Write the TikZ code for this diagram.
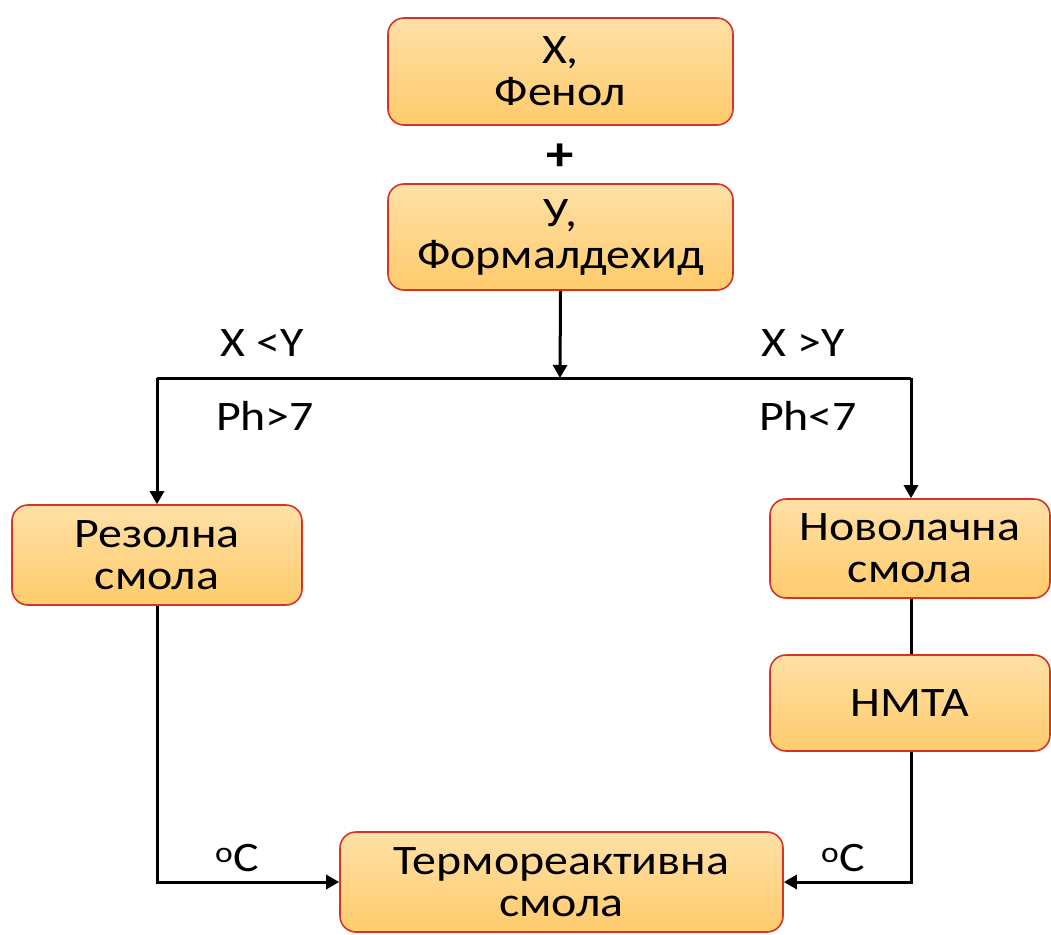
\documentclass[tikz,border=0pt]{standalone}
\usepackage{fontspec}
\setmainfont{Carlito}[FakeStretch=1.14]
\usetikzlibrary{arrows.meta}
\definecolor{boxtop}{RGB}{255,224,166}
\definecolor{boxbot}{RGB}{255,203,108}
\definecolor{boxline}{RGB}{214,52,40}
\tikzset{
  stepbox/.style={draw=boxline, line width=1.6pt, rounded corners=16pt,
    top color=boxtop, bottom color=boxbot, align=center,
    font=\fontsize{42}{42}\selectfont, inner sep=0pt},
  conn/.style={line width=3pt, line cap=butt},
  arr/.style={conn, -{Triangle[length=13pt,width=14pt]}},
  lbl/.style={font=\fontsize{42}{42}\selectfont, inner sep=0pt}
}
\begin{document}
\begin{tikzpicture}[x=1pt,y=-1pt]
\useasboundingbox (0,0) rectangle (1051,934);
\node[stepbox, minimum width=345pt, minimum height=107pt] (x) at (560.5,71.5) {Х,\\Фенол};
\node[lbl, font=\fontsize{48}{48}\selectfont\bfseries] (plus) at (560,157) {+};
\node[stepbox, minimum width=345pt, minimum height=106pt] (y) at (560.5,237) {У,\\Формалдехид};
\node[stepbox, minimum width=290pt, minimum height=100pt] (rez) at (157,555) {Резолна\\смола};
\node[stepbox, minimum width=280pt, minimum height=99pt] (nov) at (910,548.5) {Новолачна\\смола};
\node[stepbox, minimum width=280pt, minimum height=96pt] (hmta) at (910,703) {НМТА};
\node[stepbox, minimum width=443pt, minimum height=100pt] (term) at (561.5,882) {Термореактивна\\смола};
\coordinate (j) at (560,378);
\coordinate (lc) at (157,378);
\coordinate (rc) at (911,378);
\node[lbl] (l1) at (262,343) {X <Y};
\node[lbl] (l2) at (265,416) {Ph>7};
\node[lbl] (l3) at (803,343) {X >Y};
\node[lbl] (l4) at (808,416) {Ph<7};
\node[lbl] (c1) at (237,858) {\textsuperscript{o}C};
\node[lbl] (c2) at (843,858) {\textsuperscript{o}C};
\draw[arr] (y.south) -- (j);
\draw[conn] (lc) -- (rc);
\draw[arr] (lc) -- (lc |- rez.north);
\draw[arr] (rc) -- (rc |- nov.north);
\draw[conn] (rc |- nov.south) -- (rc |- hmta.north);
\draw[arr] (rez.south) |- (term.west);
\draw[arr] (rc |- hmta.south) |- (term.east);
\end{tikzpicture}
\end{document}
